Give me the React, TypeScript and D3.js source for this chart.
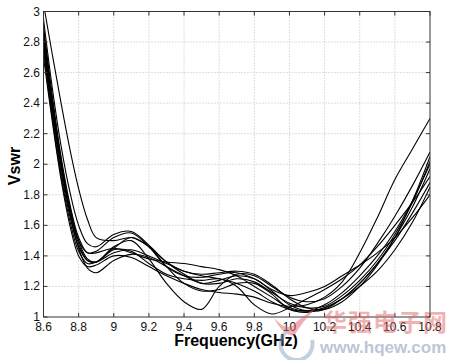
import React from "react";
import * as d3 from "d3";

const freqs = [8.6, 8.65, 8.7, 8.75, 8.8, 8.85, 8.9, 9.0, 9.1, 9.2, 9.3, 9.4, 9.5, 9.6, 9.7, 9.8, 9.9, 10.0, 10.1, 10.2, 10.3, 10.4, 10.5, 10.6, 10.7, 10.8];

const s1 = [3.05, 2.72, 2.4, 2.1, 1.84, 1.64, 1.52, 1.5, 1.52, 1.46, 1.36, 1.3, 1.28, 1.29, 1.3, 1.28, 1.21, 1.12, 1.06, 1.05, 1.1, 1.2, 1.34, 1.52, 1.76, 2.05];
const s2 = [2.95, 2.5, 2.12, 1.82, 1.6, 1.48, 1.46, 1.54, 1.56, 1.47, 1.36, 1.28, 1.22, 1.22, 1.25, 1.23, 1.16, 1.09, 1.06, 1.07, 1.14, 1.24, 1.37, 1.54, 1.75, 2.02];
const s3 = [2.8, 2.36, 1.98, 1.68, 1.45, 1.32, 1.29, 1.37, 1.41, 1.39, 1.33, 1.27, 1.22, 1.24, 1.27, 1.25, 1.17, 1.08, 1.04, 1.05, 1.12, 1.22, 1.35, 1.5, 1.68, 1.88];
const s4 = [2.88, 2.42, 2.03, 1.72, 1.5, 1.38, 1.36, 1.46, 1.5, 1.38, 1.22, 1.1, 1.05, 1.2, 1.28, 1.27, 1.2, 1.13, 1.1, 1.12, 1.2, 1.32, 1.48, 1.66, 1.86, 2.08];
const s5 = [2.75, 2.3, 1.92, 1.63, 1.43, 1.35, 1.36, 1.44, 1.43, 1.35, 1.28, 1.25, 1.24, 1.25, 1.2, 1.08, 1.02, 1.06, 1.12, 1.18, 1.25, 1.34, 1.46, 1.6, 1.75, 1.92];
const s6 = [2.7, 2.28, 1.9, 1.6, 1.4, 1.33, 1.34, 1.4, 1.39, 1.33, 1.27, 1.22, 1.18, 1.16, 1.15, 1.13, 1.09, 1.07, 1.08, 1.13, 1.23, 1.42, 1.65, 1.9, 2.1, 2.3];
const s7 = [2.85, 2.4, 2.0, 1.7, 1.5, 1.42, 1.43, 1.52, 1.55, 1.46, 1.33, 1.27, 1.26, 1.28, 1.29, 1.25, 1.18, 1.14, 1.16, 1.2, 1.27, 1.34, 1.42, 1.52, 1.65, 1.8];
const s8 = [2.9, 2.45, 2.05, 1.74, 1.52, 1.42, 1.42, 1.45, 1.42, 1.38, 1.36, 1.35, 1.33, 1.31, 1.27, 1.2, 1.13, 1.06, 1.04, 1.06, 1.12, 1.2, 1.3, 1.44, 1.62, 1.85];
const s9 = [2.82, 2.38, 2.0, 1.7, 1.48, 1.37, 1.36, 1.45, 1.52, 1.46, 1.33, 1.22, 1.17, 1.18, 1.22, 1.22, 1.15, 1.05, 1.03, 1.06, 1.12, 1.22, 1.35, 1.52, 1.72, 1.97];
const s10 = [2.78, 2.33, 1.95, 1.66, 1.46, 1.37, 1.36, 1.42, 1.44, 1.4, 1.35, 1.3, 1.27, 1.25, 1.22, 1.17, 1.1, 1.05, 1.04, 1.08, 1.16, 1.27, 1.4, 1.56, 1.76, 2.0];

const seriesList = [s1, s2, s3, s4, s5, s6, s7, s8, s9, s10];

const xTicks = [8.6, 8.8, 9, 9.2, 9.4, 9.6, 9.8, 10, 10.2, 10.4, 10.6, 10.8];
const yTicks = [1, 1.2, 1.4, 1.6, 1.8, 2, 2.2, 2.4, 2.6, 2.8, 3];

const xLabel = "Frequency(GHz)";
const yLabel = "Vswr";

export default function App() {
  const W = 449, H = 360;
  const L = 43.5, R = 430, T = 11.5, B = 317;
  const x = d3.scaleLinear().domain([8.6, 10.8]).range([L, R]);
  const y = d3.scaleLinear().domain([1, 3]).range([B, T]);
  const line = d3
    .line<number>()
    .x((_, i) => x(freqs[i]))
    .y((d) => y(d))
    .curve(d3.curveCatmullRom.alpha(0.5));
  const font = "'Liberation Sans', Arial, sans-serif";
  return (
    <svg
      width={W}
      height={H}
      style={{ position: "absolute", left: 0, top: 0, background: "#fff" }}
    >
      <defs>
        <clipPath id="plotclip">
          <rect x={L} y={T} width={R - L} height={B - T} />
        </clipPath>
      </defs>
      <rect x={0} y={0} width={W} height={H} fill="#fff" />
      {/* grid */}
      {xTicks.slice(1, -1).map((t) => (
        <line key={"gx" + t} x1={x(t)} x2={x(t)} y1={T} y2={B} stroke="#bdbdbd" strokeWidth={1} strokeDasharray="1,2" />
      ))}
      {yTicks.slice(1, -1).map((t) => (
        <line key={"gy" + t} x1={L} x2={R} y1={y(t)} y2={y(t)} stroke="#bdbdbd" strokeWidth={1} strokeDasharray="1,2" />
      ))}
      {/* curves */}
      <g clipPath="url(#plotclip)">
        {seriesList.map((s, i) => (
          <path key={i} d={line(s) || ""} fill="none" stroke="#000" strokeWidth={1.1} />
        ))}
      </g>
      {/* box */}
      <rect x={L} y={T} width={R - L} height={B - T} fill="none" stroke="#333" strokeWidth={1} />
      {/* ticks */}
      {xTicks.map((t) => (
        <g key={"tx" + t}>
          <line x1={x(t)} x2={x(t)} y1={B} y2={B - 4} stroke="#333" />
          <line x1={x(t)} x2={x(t)} y1={T} y2={T + 4} stroke="#333" />
          <text x={x(t)} y={331} textAnchor="middle" fontFamily={font} fontSize={12} fill="#111">
            {String(t)}
          </text>
        </g>
      ))}
      {yTicks.map((t) => (
        <g key={"ty" + t}>
          <line x1={L} x2={L + 4} y1={y(t)} y2={y(t)} stroke="#333" />
          <line x1={R} x2={R - 4} y1={y(t)} y2={y(t)} stroke="#333" />
          <text x={40} y={y(t) + 4} textAnchor="end" fontFamily={font} fontSize={12} fill="#111">
            {String(t)}
          </text>
        </g>
      ))}
      {/* axis labels */}
      <text x={236} y={346} textAnchor="middle" fontFamily={font} fontWeight="bold" fontSize={16} fill="#000">
        {xLabel}
      </text>
      <text
        transform="translate(20,166) rotate(-90)"
        textAnchor="middle"
        fontFamily={font}
        fontWeight="bold"
        fontSize={16}
        fill="#000"
      >
        {yLabel}
      </text>
      {/* watermark */}
      <g opacity={0.5}>
        <path d="M274,318 Q285,330 292,326 Q300,318 318,306 Q302,322 294,336 Q282,334 274,318 Z" fill="#e0606a" />
        <path d="M286,332 A16,16 0 1 0 312,340" fill="none" stroke="#8aa0c0" strokeWidth={4} />
        <text x={323} y={331} fontFamily="'Noto Sans CJK SC', sans-serif" fontWeight="bold" fontSize={24} fill="#e26a6a" letterSpacing={1}>
          华强电子网
        </text>
        <text x={320} y={353} fontFamily={font} fontWeight="bold" fontSize={17} fill="#7a8fb0">
          www.hqew.com
        </text>
      </g>
    </svg>
  );
}
